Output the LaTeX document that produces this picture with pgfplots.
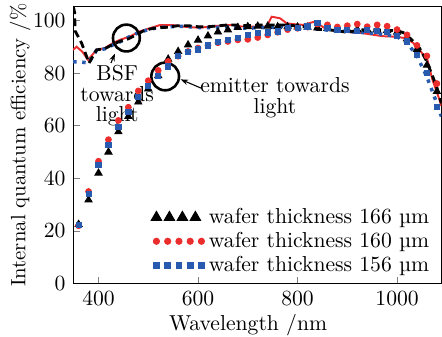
\documentclass[border=0pt]{standalone}
\usepackage{pgfplots}
\pgfplotsset{compat=1.18}
\usetikzlibrary{calc,arrows.meta}
\definecolor{cR}{RGB}{235,45,45}
\definecolor{cB}{RGB}{40,90,175}
\begin{document}
\begin{tikzpicture}
\begin{axis}[name=ax, scale only axis, width=170.2pt, height=128pt,
  xmin=349, xmax=1089, ymin=0, ymax=105.2,
  xtick={400,600,800,1000}, ytick={0,20,...,100},
  xticklabel style={/pgf/number format/1000 sep={}},
  tick align=inside, xtick pos=bottom, ytick pos=left, major tick length=3pt,
  xlabel={Wavelength /nm}, ylabel={Internal quantum efficiency /\%},
  xlabel style={at={(axis description cs:0.475,-0.17)}, anchor=base},
  ylabel style={at={(axis description cs:-0.144,0.5)}, anchor=center, font=\fontsize{9.6}{10}\selectfont},
  legend style={at={(axis cs:505,30.5)}, anchor=north west, draw=none, fill=none, inner sep=0pt, row sep=-1.5pt, legend cell align=left},
  clip=true]
% upper: BSF towards light
\addplot[cR, line width=0.9pt, forget plot] coordinates {(349,88.8) (356,90) (368,88) (379,85) (396,88.8) (413,89.5) (429,91.4) (443,92.6) (463,93.9) (483,95.8) (503,97) (523,98.2) (550,98.2) (573,97.6) (603,97.2) (636,97.9) (669,98.3) (683,97.7) (723,97.6) (738,97.7) (748,101.4) (765,100.8) (778,98.9) (790,98.6) (811,98.3) (834,99.5) (857,96.8) (877,96) (900,95.6) (925,95.3) (950,94.6) (971,94) (998,93.8) (1018,93.2) (1032,91.5) (1045,88.8) (1061,85) (1071,77.5) (1085,70) (1089,67.5)};
\addplot[cB, line width=1.6pt, dash pattern=on 1.6pt off 2.6pt, forget plot] coordinates {(349,84.3) (365,84.2) (380,83.8) (396,88.6) (413,89.2) (430,90.8) (445,92) (460,93.6) (480,95.3) (500,96.5) (520,97.3) (540,97.5) (560,97.8) (580,97.6) (600,97.3) (620,97.2) (640,97.4) (660,97.6) (680,97.2) (700,97) (720,97.2) (740,97.3) (760,97.4) (780,98) (800,97.2) (820,97) (840,96.8) (860,96.3) (880,96) (900,95.8) (920,95.5) (940,95.3) (960,95) (980,94.5) (1000,93.8) (1020,91.5) (1040,86.5) (1060,78.5) (1075,71) (1089,63.5)};
\addplot[black, line width=1.3pt, dash pattern=on 3.5pt off 2pt, forget plot] coordinates {(349.5,105.2) (352,103) (353,96) (366,91.4) (381,83.8) (396,88.8) (413,89.3) (430,91) (445,92.2) (460,93) (476,94.5) (490,96) (505,96.8) (520,97.2) (540,97.4) (560,98) (580,98) (600,97.6) (620,97.6) (640,97.9) (660,98.3) (680,98.2) (700,98) (720,98.2) (740,98.3) (760,98.2) (780,98.3) (800,97.8) (820,97.5) (840,96.6) (860,96.5) (880,96) (900,95.5) (920,96.2) (940,96.6) (960,96.4) (980,96.2) (1000,96.1) (1015,95.2) (1030,92.5) (1045,89.5) (1058,85) (1070,79.5) (1080,74.5) (1089,68.5)};
% lower: emitter towards light
\addplot[only marks, mark=triangle*, mark size=1.9pt, black,
  legend image code/.code={\draw[black, only marks, mark=triangle*, mark size=2.8pt] plot coordinates {(0pt,0pt) (6pt,0pt) (12pt,0pt) (18pt,0pt)};}]
 coordinates {(360,22.5) (380,31.8) (400,42) (420,50) (440,57.7) (460,63.5) (480,69) (500,74) (520,79) (540,85.3) (560,88.2) (580,90.7) (600,92.5) (620,94.1) (640,95.6) (660,96.4) (680,97.3) (700,97.6) (720,97.8) (740,97.8) (760,97.6) (780,97.6) (800,97.5) (820,97.4) (840,97.2) (860,97) (880,96.8) (900,96.6) (920,96.5) (940,96.5) (960,96.4) (980,96.2) (1000,95.5) (1020,93) (1040,89) (1060,83) (1080,73)};
\addlegendentry{wafer thickness 166 µm}
\addplot[only marks, mark=*, mark size=1.35pt, cR,
  legend image code/.code={\draw[cR, only marks, mark=*, mark size=1.45pt] plot coordinates {(0pt,0pt) (5.2pt,0pt) (10.4pt,0pt) (15.6pt,0pt) (20.8pt,0pt)};}]
 coordinates {(360,22) (380,35) (400,46.5) (420,54.7) (440,62) (460,67) (480,73.2) (500,77.1) (520,81) (540,84.4) (560,86.4) (580,88.2) (600,89.5) (620,90.5) (640,91.5) (660,92) (680,92.6) (700,92.8) (720,93.5) (740,94.5) (760,95.5) (780,96.5) (800,97) (820,97.5) (840,98.6) (860,98.3) (880,97.5) (900,98) (920,98.6) (940,97.6) (960,98.3) (980,97.8) (1000,96.5) (1020,94.5) (1040,90.5) (1060,86.5) (1080,76)};
\addlegendentry{wafer thickness 160 µm}
\addplot[only marks, mark=square*, mark size=1.2pt, cB,
  legend image code/.code={\draw[cB, only marks, mark=square*, mark size=1.35pt] plot coordinates {(0pt,0pt) (5.2pt,0pt) (10.4pt,0pt) (15.6pt,0pt) (20.8pt,0pt)};}]
 coordinates {(360,22.3) (380,34) (400,45) (420,52.8) (440,59.6) (460,65.3) (480,71) (500,75.2) (520,79) (540,82.5) (560,86.5) (580,88) (600,89) (620,90.5) (640,91.7) (660,92.6) (680,93.3) (700,94.5) (720,95.1) (740,95.4) (760,95.8) (780,97) (800,97) (820,97.7) (840,99) (860,97) (880,96.4) (900,96.5) (920,96) (940,96.3) (960,96) (980,95.5) (1000,94) (1020,92) (1040,87) (1060,80) (1080,67)};
\addlegendentry{wafer thickness 156 µm}
% annotations
\draw[line width=1.2pt] (axis cs:456,93.3) circle[radius=6.2pt];
\draw[line width=1.2pt] (axis cs:534,78.7) circle[radius=6.4pt];
\draw[line width=0.5pt, -{Stealth[length=3.5pt,width=2.5pt]}] (axis cs:425,83.8) -- (axis cs:433,87.4);
\draw[line width=0.5pt, -{Stealth[length=3.5pt,width=2.5pt]}] (axis cs:607,74.2) -- (axis cs:565,77.6);
\node[align=center, font=\fontsize{10}{9.45}\selectfont] at (axis cs:437.6,71.4) {BSF\\towards\\light};
\node[align=center, font=\fontsize{10}{9.45}\selectfont] at (axis cs:754.6,70.6) {emitter towards\\light};
\end{axis}
\pgfresetboundingbox
\path ($(ax.south west)+(-33.8pt,-24.2pt)$) rectangle ($(ax.north east)+(0.3pt,3.1pt)$);
\end{tikzpicture}
\end{document}
